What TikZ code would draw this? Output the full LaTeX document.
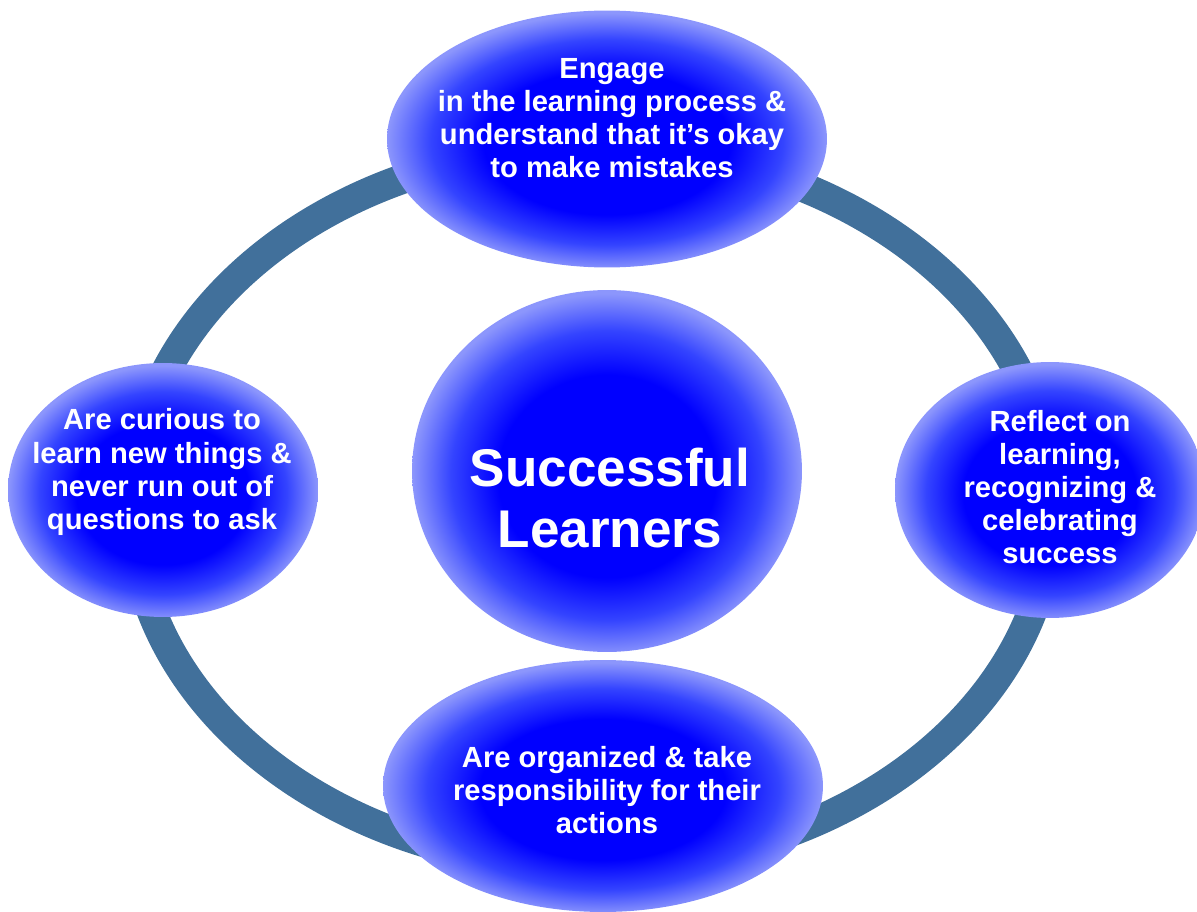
\documentclass[tikz,border=0pt]{standalone}
\usepackage{fontspec}
\setmainfont{Liberation Sans}
\usetikzlibrary{shapes.geometric}
\definecolor{ringcol}{HTML}{41709B}
\definecolor{edgecol}{HTML}{8C96FC}
\definecolor{midcol}{HTML}{3444FF}
\pgfdeclareradialshading{bubble}{\pgfpoint{0bp}{-1bp}}{%
  color(0bp)=(blue); color(14bp)=(blue); color(20bp)=(midcol);
  color(25bp)=(edgecol); color(50bp)=(edgecol)}
\tikzset{
  bubbleshape/.style={ellipse, draw=none, shading=bubble, inner sep=0pt},
  bubbletext/.style={text=white, font=\bfseries\fontsize{16.6}{18.8}\selectfont, align=center, inner sep=0pt},
  ringline/.style={draw=ringcol, line width=17pt}
}
\begin{document}
\begin{tikzpicture}[x=0.02cm, y=-0.02cm]
\useasboundingbox (0,0) rectangle (1197,912);
% ring
\draw[ringline] (592,507) ellipse [x radius=9.2cm, y radius=7.2cm];
% bubbles
\node[bubbleshape, minimum width=8.8cm, minimum height=5.14cm] (top) at (607,139) {};
\node[bubbleshape, minimum width=6.2cm, minimum height=5.08cm] (left) at (163,490) {};
\node[bubbleshape, minimum width=6.2cm, minimum height=5.12cm] (right) at (1050,490) {};
\node[bubbleshape, minimum width=8.8cm, minimum height=5.04cm] (bottom) at (603,786) {};
\node[bubbleshape, minimum width=7.8cm, minimum height=7.24cm] (centre) at (607,471) {};
% texts
\node[bubbletext] (toptext) at (612,118) {Engage\\in the learning process \&\\understand that it’s okay\\to make mistakes};
\node[bubbletext] (lefttext) at (162,472) {Are curious to\\learn new things \&\\never run out of\\questions to ask};
\node[bubbletext] (righttext) at (1060,487) {Reflect on\\learning,\\recognizing \&\\celebrating\\success};
\node[bubbletext] (bottomtext) at (607,790) {Are organized \& take\\responsibility for their\\actions};
\node[bubbletext, font=\bfseries\fontsize{30.2}{35}\selectfont] (centretext) at (610,498) {Successful\\Learners};
\end{tikzpicture}
\end{document}
